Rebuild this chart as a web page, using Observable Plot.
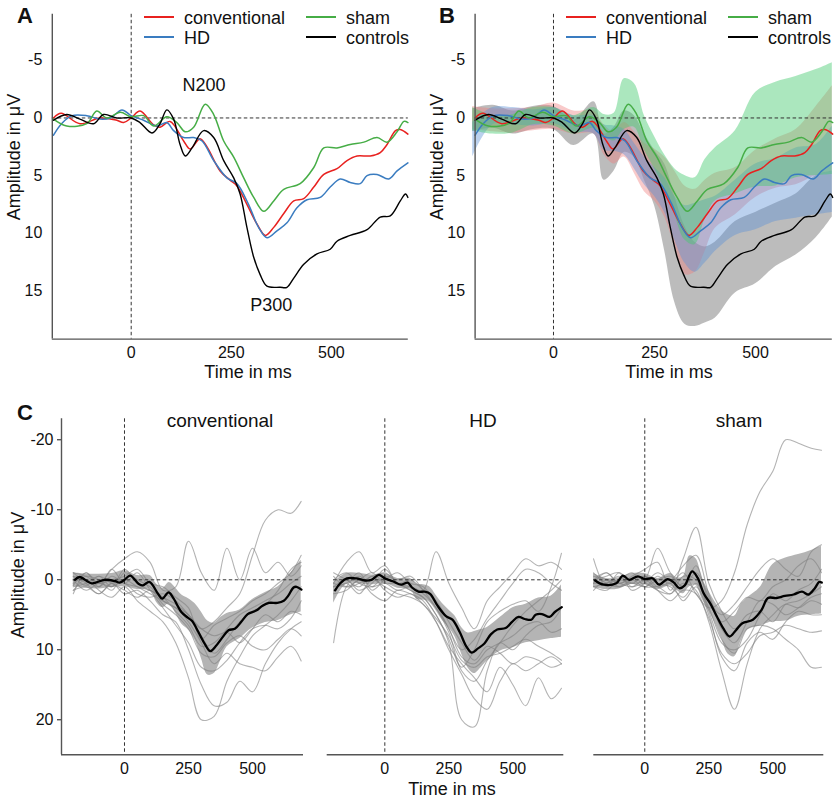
<!DOCTYPE html>
<html><head><meta charset="utf-8">
<script src="https://cdn.jsdelivr.net/npm/d3@7"></script>
<script src="https://cdn.jsdelivr.net/npm/@observablehq/plot@0.6"></script>
<style>
body{margin:0;background:#fff;}
#fig{position:relative;width:836px;height:802px;overflow:hidden;background:#fff;font-family:"Liberation Sans",Arial,sans-serif;color:#111;}
.abs{position:absolute;white-space:nowrap;line-height:1;}
.pw{position:absolute;}
</style></head><body><div id="fig"></div>
<script>
// ---------------- DATA ----------------
// Grand-average ERPs (µV), positive = down
const convT = [-194,-175,-128,-78,-36,-19,0,22,56,72,97,131,147,172,189,222,247,264,289,314,335,356,381,406,431,456,481,514,539,564,597,622,639,660,672,691];
const convV = [0.0,-0.4,0.5,0.0,0.2,0.4,0.0,-0.6,0.6,0.8,0.3,2.0,2.7,1.8,2.5,4.6,5.4,5.9,7.5,9.2,10.2,9.5,8.3,7.2,7.0,6.0,4.9,4.4,3.7,3.3,3.3,3.0,2.3,1.1,1.0,1.4];
const hdT = [-194,-174,-148,-111,-78,-52,-23,0,31,64,89,106,131,156,177,206,239,264,293,318,339,364,389,414,439,472,497,522,547,572,589,614,643,664,691];
const hdV = [1.5,0.5,-0.2,-0.2,0.1,0.0,-0.7,-0.2,0.2,0.7,0.4,1.1,1.7,1.7,2.0,3.7,5.2,5.7,7.5,9.5,10.4,9.8,9.1,7.8,7.1,6.9,6.0,5.3,5.6,5.7,5.0,4.9,5.3,4.6,3.9];
const shamT = [-194,-161,-111,-86,-61,-27,0,31,56,89,114,135,156,185,206,231,256,281,306,331,356,381,422,456,481,514,547,581,614,639,664,681,691];
const shamV = [0.1,0.7,0.5,-0.6,0.0,-0.5,-0.1,-0.2,0.7,-0.1,0.4,1.2,0.8,-1.2,-0.3,2.0,3.4,5.2,6.9,8.1,7.2,6.2,5.7,4.3,2.6,2.6,2.3,2.1,1.7,2.1,1.2,0.3,0.4];
const ctrlT = [-194,-161,-128,-94,-69,-36,0,22,52,72,89,106,122,135,152,181,206,231,256,272,289,306,322,339,372,389,406,431,464,497,514,547,589,622,647,672,685,691];
const ctrlV = [0.2,-0.3,0.1,0.5,-0.3,0.0,0.0,0.4,1.3,0.5,-0.7,0.1,2.3,3.3,2.6,1.1,1.7,3.7,5.2,6.6,9.5,12.1,13.6,14.6,14.7,14.7,13.9,12.7,11.8,11.4,10.7,10.2,9.7,8.6,8.5,7.2,6.6,6.9];

// Confidence bands
const bandT = [-200,-150,-100,-50,0,50,100,125,150,175,200,225,250,275,300,325,350,375,400,450,500,550,600,650,690];
const convLo = [-1.0,-0.8,-0.8,-0.9,-1.3,-0.6,-0.6,0.6,1.2,0.4,1.2,2.2,2.7,3.4,4.6,5.9,6.2,5.4,4.8,4.3,2.8,1.8,1.0,-1.0,-2.8];
const convHi = [1.0,1.2,1.3,1.1,1.0,1.4,1.4,3.2,4.0,3.4,4.8,6.4,7.2,8.6,11.2,13.6,13.4,11.6,9.6,8.4,6.9,6.1,5.8,5.0,4.6];
const hdLo = [0.4,-0.9,-0.9,-0.7,-0.9,-0.2,-0.2,0.6,0.7,1.0,2.2,3.4,4.3,5.2,6.8,7.6,7.4,7.1,6.8,5.4,4.0,3.5,2.6,2.3,0.7];
const hdHi = [3.4,0.6,0.6,0.7,0.5,1.2,1.4,2.8,2.9,3.2,4.4,5.8,6.8,8.2,10.6,12.6,13.4,12.6,11.6,10.2,9.7,9.0,8.7,8.4,8.2];
const shamLo = [-0.9,-0.2,-0.3,-0.9,-0.9,-0.2,-0.9,-0.3,-0.4,-3.4,-3.0,-0.2,1.6,3.2,4.4,5.0,5.2,3.6,2.6,1.1,-2.2,-3.1,-3.6,-4.2,-4.8];
const shamHi = [1.1,1.4,1.3,0.6,0.7,1.4,0.9,1.5,2.0,1.0,0.8,2.8,4.4,6.2,8.4,10.6,11.0,8.8,7.2,6.6,6.0,5.9,5.2,5.0,4.9];
const ctrlLo = [-0.8,-1.1,-0.6,-1.0,-1.0,0.2,-1.4,1.4,0.8,-0.6,-0.2,1.4,2.8,4.0,6.8,9.4,10.8,11.2,10.8,9.0,8.2,7.4,6.6,5.0,4.6];
const ctrlHi = [1.2,0.9,1.4,1.0,1.0,2.4,1.4,5.4,4.6,3.0,3.4,5.4,7.6,11.5,16.0,17.9,18.1,17.8,17.4,15.2,14.4,12.9,11.9,10.4,8.6];

// Single-subject traces (panel C)
const traceT = [-200,-150,-100,-50,0,50,100,150,200,250,300,350,400,450,500,550,600,650,690];
const convTraces = [
  [-0.5,0.8,-0.5,1.0,-1.5,0.5,1.5,2.5,3.5,5.0,7.0,6.0,4.0,2.0,-3.5,-8.5,-10.0,-9.5,-11.2],
  [0.8,-1.0,0.5,-1.5,-3.0,-4.0,-2.5,1.5,1.0,-5.5,-1.0,1.5,-4.5,0.0,-4.5,-1.0,-2.5,-0.5,-2.0],
  [1.5,0.0,1.5,2.5,1.0,3.0,4.5,6.0,9.0,14.0,20.0,19.5,14.5,11.0,8.0,6.5,5.0,3.0,1.0],
  [-1.0,0.5,2.0,0.5,2.0,1.5,3.0,5.0,6.0,10.0,15.0,18.0,17.5,14.5,16.0,12.0,9.0,7.0,6.0],
  [0.0,1.5,0.5,1.0,0.0,1.0,2.0,3.0,4.0,6.0,9.0,12.0,10.5,12.0,12.5,13.0,11.0,9.5,11.6],
  [1.0,0.5,-0.5,0.5,1.5,2.5,1.5,3.5,5.0,7.0,10.5,11.0,9.0,8.0,9.5,10.0,8.5,7.0,8.0],
  [-0.5,0.0,1.0,-0.5,0.5,1.0,1.5,2.5,4.5,6.5,9.5,9.0,7.0,5.0,4.0,3.0,2.0,0.5,-0.5],
  [0.5,-0.5,0.0,1.5,-1.0,0.0,1.0,3.0,4.0,5.0,8.0,10.5,8.5,6.0,4.5,3.5,1.5,-1.5,-2.5],
  [1.5,1.0,2.0,0.5,0.5,2.0,2.5,2.0,3.0,5.0,7.0,8.0,7.5,9.0,7.0,5.0,6.0,4.5,5.0],
  [-1.0,-0.5,0.5,0.0,-0.5,-1.5,0.5,1.0,2.5,4.0,8.5,6.5,5.5,4.5,3.0,2.0,0.5,-1.0,-3.5],
  [2.0,-1.0,1.0,-1.5,0.5,-1.0,1.5,4.0,6.5,9.0,12.5,13.0,11.5,9.0,7.0,6.5,7.0,5.5,3.0]
];
const hdTraces = [
  [9.0,1.0,-0.5,1.0,0.5,1.5,1.0,2.0,4.0,7.0,11.0,12.0,10.0,9.0,8.0,6.5,6.0,7.5,7.0],
  [0.5,-2.5,-4.0,-1.0,-2.0,0.5,0.0,1.5,3.0,6.0,9.0,11.5,9.5,10.5,12.0,11.0,11.5,12.5,12.0],
  [1.0,0.0,1.5,0.5,-1.5,0.5,1.0,1.5,-4.0,0.5,4.0,7.0,3.0,1.0,-1.0,-3.0,-2.0,-2.5,-1.5],
  [0.5,1.0,0.0,-1.0,0.5,0.5,1.5,2.5,5.0,9.0,20.0,21.0,13.0,9.0,10.0,8.0,6.5,6.0,4.0],
  [1.5,0.5,2.0,0.0,1.0,2.0,2.5,3.5,6.0,9.5,12.0,14.0,16.0,12.5,15.0,18.0,14.0,17.0,15.5],
  [-0.5,1.0,0.5,-0.5,-1.0,0.5,1.5,2.5,5.0,8.5,12.5,10.0,6.0,4.5,3.5,3.0,4.5,1.0,-3.8],
  [1.0,0.5,-1.0,1.5,0.0,-1.0,0.5,1.0,3.5,7.0,10.0,8.5,5.5,3.0,0.5,-1.5,-1.0,0.5,1.5],
  [-1.0,0.0,1.0,-0.5,1.5,2.5,2.0,3.5,5.5,8.0,11.5,12.5,11.0,10.5,9.5,8.5,9.5,10.5,11.5],
  [0.0,-1.0,0.5,1.0,-0.5,0.0,-0.5,1.5,4.0,7.5,13.0,14.5,11.5,9.0,6.5,4.5,3.0,1.5,0.0],
  [2.0,1.5,0.0,2.0,3.0,1.5,2.0,3.0,6.0,10.0,13.5,17.0,18.5,14.5,12.0,13.0,12.0,11.0,12.0]
];
const shamTraces = [
  [0.5,-1.0,0.5,0.0,1.0,-0.5,0.5,-1.0,2.0,4.0,3.0,-1.0,-7.9,-12.6,-15.5,-20.0,-19.5,-18.8,-18.5],
  [1.0,0.5,-0.5,1.0,0.5,1.5,2.0,0.5,1.5,6.0,13.0,18.5,12.0,7.0,5.0,3.5,4.0,3.0,3.5],
  [0.0,-1.0,0.5,-0.5,-1.5,-2.5,1.5,-3.0,-7.5,0.5,4.5,7.0,5.0,4.5,6.0,3.5,3.0,2.0,1.0],
  [-1.0,0.5,1.0,0.0,-0.5,0.5,1.0,2.5,0.5,4.0,8.5,10.5,7.0,6.5,7.0,8.5,10.0,12.5,12.5],
  [1.5,0.0,0.5,1.0,0.0,1.5,3.0,1.5,2.0,5.5,10.5,12.0,10.5,8.0,7.5,6.5,7.0,7.5,7.3],
  [-3.0,1.0,-1.0,0.5,0.0,-4.5,-1.0,1.0,-2.0,3.0,5.0,3.5,1.0,-1.5,-3.0,-1.5,-0.5,-4.0,-5.0],
  [0.5,0.5,0.0,-1.0,1.0,1.0,2.0,-0.5,0.0,4.5,9.0,10.0,8.5,5.0,2.0,3.0,1.5,0.5,-1.5],
  [-0.5,0.0,1.0,0.5,1.0,0.0,-0.5,1.0,-1.0,2.5,7.0,9.0,6.0,3.0,3.5,5.0,4.0,2.5,2.0],
  [1.0,1.5,0.0,0.5,-0.5,1.0,0.5,3.0,1.0,5.0,11.0,13.0,9.0,7.5,8.5,6.0,4.5,5.0,5.0],
  [0.0,-0.5,-1.0,1.5,0.5,-1.0,0.0,-2.0,-3.5,2.0,6.0,4.5,2.5,3.0,1.0,0.0,-2.0,-3.0,-1.0]
];

const groupNames = ["conventional","HD","sham","controls"];
const xTicks = [0,250,500];
const yTicksTop = [-5,0,5,10,15];
const yTicksC = [-20,-10,0,10,20];
const annotT = [182,350];
const annotV = [-2.8,16.3];
const annotLabels = ["N200","P300"];

// ---------------- STYLE ----------------
const FONT = '"Liberation Sans", Arial, Helvetica, sans-serif';
const lineColors = ["#e8211f","#3a7cc0","#46ad46","#000000"];
const bandFills = ["#f07a7a","#5d92d6","#45c96f","#7a7a7a"];
const bandOps = [0.4,0.42,0.45,0.5];
const fig = document.getElementById("fig");

const rows = (t, v) => t.map((d,i)=>({t:d, v:v[i]}));
const bRows = (lo, hi) => bandT.map((d,i)=>({t:d, lo:lo[i], hi:hi[i]}));
const fmt = d => String(d);

const groups = [
  {t:convT, v:convV, lo:convLo, hi:convHi},
  {t:hdT, v:hdV, lo:hdLo, hi:hdHi},
  {t:shamT, v:shamV, lo:shamLo, hi:shamHi},
  {t:ctrlT, v:ctrlV, lo:ctrlLo, hi:ctrlHi}
];

function place(node, left, top) {
  const w = document.createElement("div");
  w.className = "pw";
  w.style.left = left + "px"; w.style.top = top + "px";
  w.appendChild(node);
  fig.appendChild(w);
}
function label(txt, x, y, size, o = {}) {
  const d = document.createElement("div");
  d.className = "abs";
  d.textContent = txt;
  d.style.left = x + "px"; d.style.top = y + "px";
  d.style.fontSize = size + "px";
  if (o.bold) d.style.fontWeight = "bold";
  d.style.transform = o.left ? "translate(0,-50%)" : ("translate(-50%,-50%)" + (o.rotate ? " rotate(-90deg)" : ""));
  fig.appendChild(d);
}
const baseStyle = {fontFamily: FONT, fontSize: "16px", color: "#111", background: "transparent", overflow: "visible", maxWidth: "none"};
const dash = {stroke: "#333", strokeDasharray: "3.5,2.5", strokeWidth: 1};
const axisLine = {stroke: "#555", strokeWidth: 1.4};

// ---------------- TOP PANELS ----------------
function topPanel(withBands, xDomain, mL, mR) {
  const yDom = [-9, 19.2];
  const marks = [];
  if (withBands) {
    [3,0,1,2].forEach(k => marks.push(Plot.areaY(bRows(groups[k].lo, groups[k].hi),
      {x:"t", y1:"lo", y2:"hi", fill: bandFills[k], fillOpacity: bandOps[k], curve: "catmull-rom"})));
  }
  marks.push(Plot.ruleY([0], dash));
  marks.push(Plot.ruleX([0], dash));
  groups.forEach((g,k) => marks.push(Plot.line(rows(g.t, g.v),
    {x:"t", y:"v", stroke: lineColors[k], strokeWidth: k===3 ? 1.4 : 1.5, curve: "catmull-rom"})));
  marks.push(Plot.ruleX([xDomain[0]], axisLine));
  marks.push(Plot.ruleY([yDom[1]], axisLine));
  if (!withBands) {
    marks.push(Plot.text(annotLabels.map((s,i)=>({t:annotT[i], v:annotV[i], s})),
      {x:"t", y:"v", text:"s", fontSize: 18, fill: "#111"}));
  }
  return Plot.plot({
    width: 418, height: 380,
    marginLeft: mL, marginRight: mR, marginTop: 13.8, marginBottom: 41.4,
    style: baseStyle,
    x: {domain: xDomain, ticks: xTicks, tickSize: 0, tickPadding: 8, label: null, tickFormat: fmt},
    y: {domain: yDom, reverse: true, ticks: yTicksTop, tickSize: 0, tickPadding: 10, label: null, tickFormat: fmt},
    marks
  });
}
place(topPanel(false, [-197, 692], 51.8, 10.2), 0, 0);
place(topPanel(true, [-194, 690], 56.6, 4.2), 418, 0);

// legends
function legend(x0) {
  const cols = [0, 162], rowsY = [17, 37];
  groupNames.forEach((name, k) => {
    const cx = x0 + cols[Math.floor(k/2)], cy = rowsY[k%2];
    const ln = document.createElement("div");
    ln.className = "abs";
    Object.assign(ln.style, {left: cx+"px", top: (cy-1.4)+"px", width: "30px", height: "2.8px", background: lineColors[k]});
    fig.appendChild(ln);
    label(name, cx + 40, cy + 1, 18, {left: true});
  });
}
legend(144);
legend(566);

label("A", 25, 16, 22, {bold: true});
label("B", 447, 16, 22, {bold: true});
label("Time in ms", 248, 372, 18);
label("Time in ms", 669, 372, 18);
label("Amplitude in μV", 14, 157, 18, {rotate: true});
label("Amplitude in μV", 437, 157, 18, {rotate: true});

// ---------------- PANEL C ----------------
function cPanel(k, traces, xDomain, width, mL, mR, showY) {
  const g = groups[k];
  const yDom = [-23, 25];
  const tr = traces.flatMap((a, j) => a.map((v, i) => ({j, t: traceT[i], v})));
  const marks = [
    Plot.areaY(bRows(g.lo, g.hi), {x:"t", y1:"lo", y2:"hi", fill:"#b4b4b4", curve:"catmull-rom"}),
    Plot.line(tr, {x:"t", y:"v", z:"j", stroke:"#808080", strokeOpacity:0.6, strokeWidth:1.1, curve:"catmull-rom"}),
    Plot.ruleY([0], {...dash, x1: traceT[0], x2: traceT[traceT.length-1]}),
    Plot.ruleX([0], dash),
    Plot.line(rows(g.t, g.v), {x:"t", y:"v", stroke:"#000", strokeWidth:2.3, curve:"catmull-rom"}),
    Plot.ruleY([yDom[1]], axisLine)
  ];
  if (showY) marks.push(Plot.ruleX([xDomain[0]], axisLine));
  return Plot.plot({
    width, height: 422,
    marginLeft: mL, marginRight: mR, marginTop: 38.3, marginBottom: 47.7,
    style: baseStyle,
    x: {domain: xDomain, ticks: xTicks, tickSize: 0, tickPadding: 8, label: null, tickFormat: fmt},
    y: showY ? {domain: yDom, reverse: true, ticks: yTicksC, tickSize: 4, tickPadding: 4, label: null, tickFormat: fmt}
             : {domain: yDom, reverse: true, axis: null},
    marks
  });
}
place(cPanel(0, convTraces, [-246, 699], 310, 61, 7, true), 0, 380);
place(cPanel(1, hdTraces, [-225, 699], 260, 16.7, 6.7, false), 310, 380);
place(cPanel(2, shamTraces, [-199, 699], 266, 23.3, 12.7, false), 570, 380);

label("C", 25, 413, 22, {bold: true});
label("conventional", 220, 420, 19);
label("HD", 483, 420, 19);
label("sham", 739, 420, 19);
label("Amplitude in μV", 18, 575, 18, {rotate: true});
label("Time in ms", 452, 789, 18);
</script>
</body></html>
